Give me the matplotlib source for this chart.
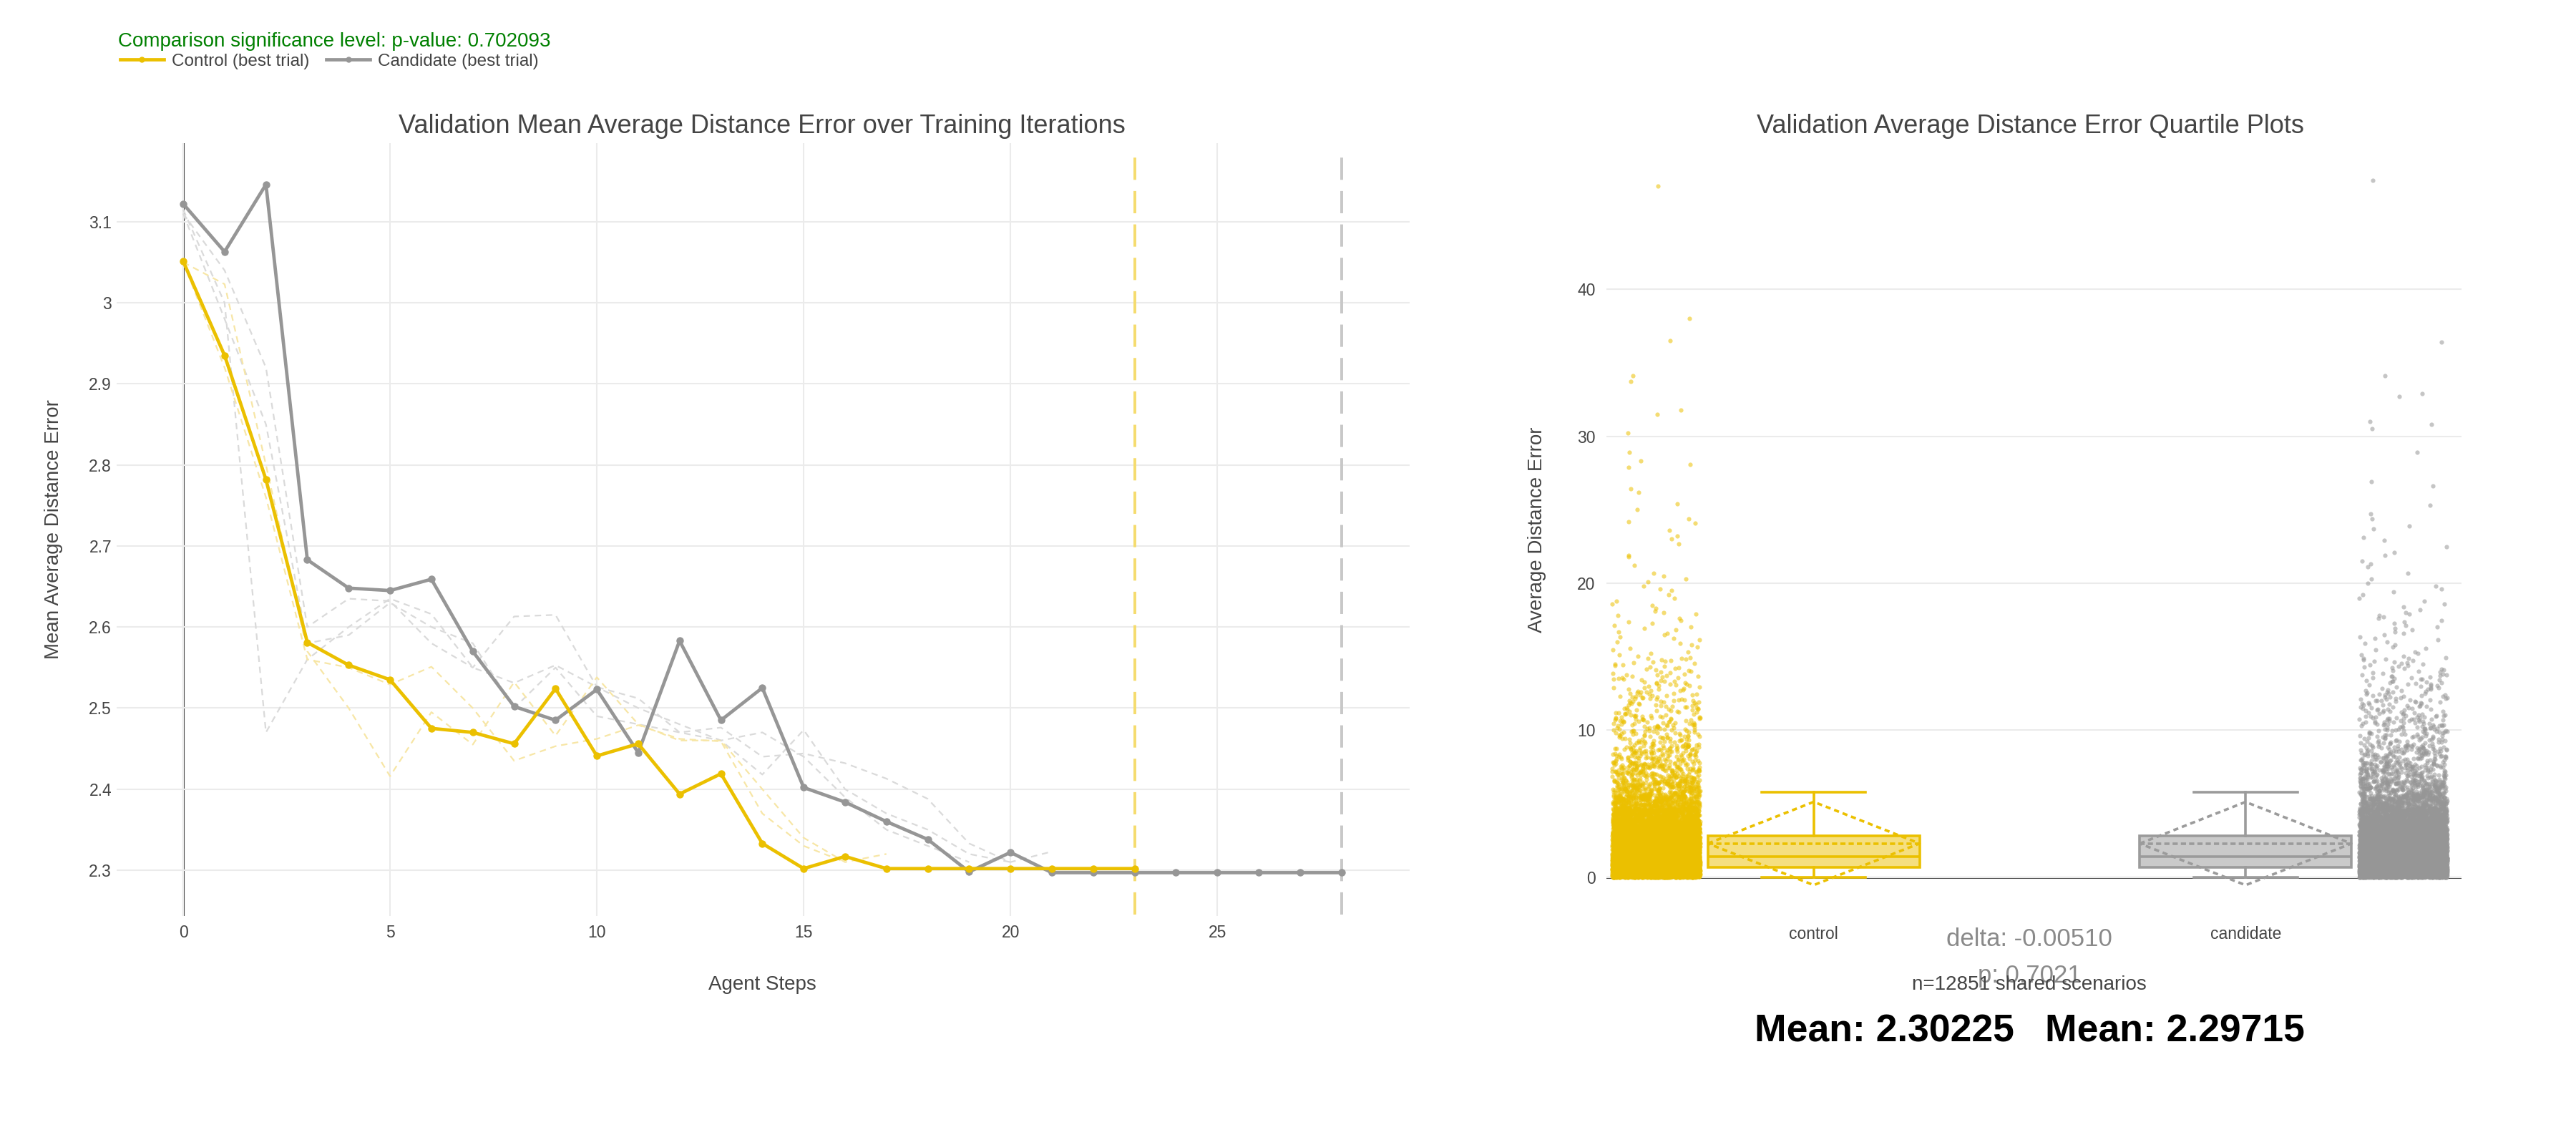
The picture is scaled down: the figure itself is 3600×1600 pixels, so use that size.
import numpy as np
import matplotlib
matplotlib.use('Agg')
import matplotlib.pyplot as plt
from matplotlib.lines import Line2D

plt.rcParams['font.family'] = ['Liberation Sans', 'DejaVu Sans']

# ---------------- data: training curves ----------------
control_steps = list(range(24))
control_best = [3.051, 2.935, 2.782, 2.581, 2.553, 2.535, 2.475, 2.470, 2.456, 2.524,
                2.441, 2.456, 2.394, 2.419, 2.333, 2.302, 2.317, 2.302, 2.302, 2.302,
                2.302, 2.302, 2.302, 2.302]
candidate_steps = list(range(29))
candidate_best = [3.122, 3.063, 3.146, 2.683, 2.648, 2.645, 2.659, 2.570, 2.502, 2.485,
                  2.523, 2.445, 2.583, 2.485, 2.525, 2.402, 2.384, 2.360, 2.338, 2.298,
                  2.322, 2.297, 2.297, 2.297, 2.297, 2.297, 2.297, 2.297, 2.297]

control_trial_1 = [3.05, 3.023, 2.80, 2.57, 2.50, 2.416, 2.495, 2.455, 2.532, 2.466,
                   2.538, 2.48, 2.46, 2.46, 2.40, 2.34, 2.31, 2.32]
control_trial_2 = [3.05, 2.92, 2.76, 2.56, 2.55, 2.529, 2.551, 2.50, 2.435, 2.453,
                   2.462, 2.479, 2.462, 2.459, 2.37, 2.33, 2.31]
candidate_trial_1 = [3.115, 3.00, 2.47, 2.56, 2.60, 2.635, 2.616, 2.55, 2.531, 2.553,
                     2.526, 2.512, 2.47, 2.476, 2.44, 2.444, 2.432, 2.413, 2.388, 2.333,
                     2.310, 2.323]
candidate_trial_2 = [3.11, 3.04, 2.92, 2.60, 2.635, 2.632, 2.58, 2.55, 2.613, 2.615,
                     2.526, 2.50, 2.48, 2.46, 2.418, 2.473, 2.40, 2.37, 2.35, 2.32, 2.31]
candidate_trial_3 = [3.11, 2.98, 2.85, 2.58, 2.59, 2.63, 2.60, 2.58, 2.50, 2.55,
                     2.49, 2.48, 2.47, 2.46, 2.47, 2.44, 2.39, 2.35, 2.33, 2.31]

control_stop_step = 23
candidate_stop_step = 28

x_ticks_left = [0, 5, 10, 15, 20, 25]
y_ticks_left = [2.3, 2.4, 2.5, 2.6, 2.7, 2.8, 2.9, 3.0, 3.1]
y_ticklabels_left = ['2.3', '2.4', '2.5', '2.6', '2.7', '2.8', '2.9', '3', '3.1']

# ---------------- data: per-scenario distribution ----------------
categories = ['control', 'candidate']
n_scenarios = 12851
# quantile table of the dense bulk (probability -> value)
bulk_probs = [0.0, 0.10, 0.25, 0.50, 0.75, 0.80, 0.85, 0.90, 0.93, 0.95, 0.965,
              0.975, 0.985, 0.99, 0.993, 0.995, 0.9968]
control_bulk_vals = [0.0, 0.35, 0.70, 1.43, 2.82, 3.3, 3.9, 4.7, 5.6, 6.6, 7.8,
                     9.0, 11.0, 12.5, 13.8, 15.0, 17.6]
candidate_bulk_vals = [0.0, 0.35, 0.70, 1.43, 2.81, 3.3, 3.9, 4.7, 5.6, 6.6, 7.8,
                       9.0, 11.0, 12.5, 13.8, 15.0, 17.6]
# individually visible high values
control_high = [47.0, 38.0, 36.5, 34.1, 33.7, 31.8, 31.5, 30.2, 28.9, 28.3, 28.1, 27.9,
                26.4, 26.2, 25.4, 25.0, 24.4, 24.2, 24.1, 23.6, 23.2, 23.0, 22.7, 21.9,
                21.8, 21.2, 20.7, 20.5, 20.3, 20.1, 19.8, 19.6, 19.5, 19.2, 19.0, 18.8,
                18.6, 18.5, 18.3, 18.1, 18.0, 17.9, 17.8]
candidate_high = [47.4, 36.4, 34.1, 32.9, 32.7, 31.0, 30.8, 30.5, 28.9, 26.9, 26.6, 25.3,
                  24.7, 24.4, 23.9, 23.7, 23.1, 22.9, 22.5, 22.1, 21.9, 21.5, 21.3, 21.1,
                  20.7, 20.3, 20.0, 19.8, 19.6, 19.4, 19.2, 19.0, 18.8, 18.6, 18.4, 18.2,
                  18.0, 17.9, 17.8, 17.7]
# box statistics
box_q1 = [0.70, 0.70]
box_median = [1.43, 1.43]
box_q3 = [2.82, 2.81]
box_whislo = [0.0, 0.0]
box_whishi = [5.81, 5.81]
box_mean = [2.30225, 2.29715]
box_sd = [2.83, 2.83]

y_ticks_right = [0, 10, 20, 30, 40]

# ---------------- styling ----------------
YEL = '#EBC000'
GRY = '#969696'
YEL_FILL = '#F5DF80'
GRY_FILL = '#CACACA'
TXT = '#444444'

W, H = 3600, 1600
fig = plt.figure(figsize=(36, 16), dpi=100)
fig.patch.set_facecolor('white')


def fx(px):
    return px / W


def fy(py):
    return 1 - py / H


# ================= left panel =================
axL = fig.add_axes([fx(163), fy(1280), fx(1970) - fx(163), fy(200) - fy(1280)])
axL.set_xlim(-1.61, 29.65)
axL.set_ylim(2.2435, 3.197)
for s in axL.spines.values():
    s.set_visible(False)
axL.set_xticks(x_ticks_left)
axL.set_yticks(y_ticks_left)
axL.set_yticklabels(y_ticklabels_left)
axL.grid(True, color='#EBEBEB', lw=1.5, zorder=0)
axL.tick_params(length=0, labelsize=16.5, labelcolor=TXT)
axL.tick_params(axis='x', pad=9)
axL.tick_params(axis='y', pad=5)
axL.axvline(0, color='#444444', lw=2.2, zorder=1)

for tr in [candidate_trial_1, candidate_trial_2, candidate_trial_3]:
    axL.plot(range(len(tr)), tr, color='#DADADA', lw=1.6, ls=(0, (4, 3)), zorder=2)
for tr in [control_trial_1, control_trial_2]:
    axL.plot(range(len(tr)), tr, color='#F7E6A6', lw=1.6, ls=(0, (4, 3)), zorder=2)

axL.axvline(control_stop_step, ymin=0.002, ymax=0.983, color='#F5DC6E', lw=2.8,
            ls=(0, (8, 4)), zorder=2)
axL.axvline(candidate_stop_step, ymin=0.002, ymax=0.983, color='#C8C8C8', lw=2.8,
            ls=(0, (8, 4)), zorder=2)

axL.plot(control_steps, control_best, color=YEL, lw=3.4, marker='o', ms=6.5, zorder=4)
axL.plot(candidate_steps, candidate_best, color=GRY, lw=3.4, marker='o', ms=6.5, zorder=3)

fig.text(fx(1065), fy(176), 'Validation Mean Average Distance Error over Training Iterations',
         ha='center', va='center', fontsize=26, color=TXT)
fig.text(fx(1065), fy(1376), 'Agent Steps', ha='center', va='center', fontsize=20, color=TXT)
fig.text(fx(75), fy(740), 'Mean Average Distance Error', ha='center', va='center',
         rotation=90, fontsize=20, color=TXT)

# legend + significance title
fig.text(fx(165), fy(58), 'Comparison significance level: p-value: 0.702093',
         ha='left', va='center', fontsize=20, color='#008000')
handles = [Line2D([0], [0], color=YEL, lw=3.4, marker='o', ms=5),
           Line2D([0], [0], color=GRY, lw=3.4, marker='o', ms=5)]
fig.legend(handles, ['Control (best trial)', 'Candidate (best trial)'],
           loc='center left', bbox_to_anchor=(fx(168), fy(86)), ncol=2, frameon=False,
           fontsize=17.5, labelcolor=TXT, handlelength=2.5, handletextpad=0.45,
           columnspacing=1.0, borderpad=0, borderaxespad=0)

# ================= right panel =================
axR = fig.add_axes([fx(2245), fy(1280), fx(3440) - fx(2245), fy(200) - fy(1280)])
axR.set_xlim(-0.48, 1.50)
axR.set_ylim(-2.63, 49.93)
for s in axR.spines.values():
    s.set_visible(False)
axR.set_yticks(y_ticks_right)
axR.set_xticks([0, 1])
axR.set_xticklabels(categories)
axR.grid(True, axis='y', color='#EBEBEB', lw=1.5, zorder=0)
axR.tick_params(length=0, labelsize=16.5, labelcolor=TXT)
axR.tick_params(axis='x', pad=10)
axR.tick_params(axis='y', pad=11)
axR.axhline(0, color='#444444', lw=2.2, zorder=1)

bulk_sets = [(control_bulk_vals, control_high), (candidate_bulk_vals, candidate_high)]
jit_offset = [-0.365, 0.365]
jit_width = 0.203
pt_colors = [YEL, GRY]
for i, (bv, hv) in enumerate(bulk_sets):
    n_bulk = n_scenarios - len(hv)
    p = np.linspace(0, bulk_probs[-1], n_bulk)
    vals = np.concatenate([np.interp(p, bulk_probs, bv), np.array(hv)])
    idx = np.arange(len(vals), dtype=float) + 1.0 + 0.37 * i
    # deterministic hash-based horizontal jitter (position only)
    frac = np.abs(np.sin(idx * 12.9898 + 78.233) * 43758.5453) % 1.0
    xs = i + jit_offset[i] + (frac - 0.5) * jit_width
    axR.scatter(xs, vals, s=20, color=pt_colors[i], alpha=0.55, lw=0, zorder=3)

stats = []
for i, c in enumerate(categories):
    stats.append(dict(label=c, q1=box_q1[i], med=box_median[i], q3=box_q3[i],
                      whislo=box_whislo[i], whishi=box_whishi[i]))
fills = [YEL_FILL, GRY_FILL]
edges = [YEL, '#9B9B9B']
bp = axR.bxp(stats, positions=[0, 1], widths=0.49, showfliers=False, patch_artist=True,
             capwidths=0.24, manage_ticks=False)
for i in range(2):
    bp['boxes'][i].set(facecolor=fills[i], edgecolor=edges[i], lw=2.6, zorder=4)
    bp['medians'][i].set(color=edges[i], lw=2.6, zorder=5)
    for w in bp['whiskers'][2 * i:2 * i + 2]:
        w.set(color=edges[i], lw=2.6, zorder=4)
    for cp in bp['caps'][2 * i:2 * i + 2]:
        cp.set(color=edges[i], lw=2.6, zorder=4)
    m, sd, hw = box_mean[i], box_sd[i], 0.245
    axR.plot([i - hw, i + hw], [m, m], color=edges[i], lw=2.6, ls=(0, (2, 1.2)), zorder=6)
    axR.plot([i - hw, i, i + hw, i, i - hw], [m, m + sd, m, m - sd, m],
             color=edges[i], lw=2.6, ls=(0, (2, 1.5)), zorder=6)

fig.text(fx(2837), fy(176), 'Validation Average Distance Error Quartile Plots',
         ha='center', va='center', fontsize=26, color=TXT)
fig.text(fx(2148), fy(740), 'Average Distance Error', ha='center', va='center',
         rotation=90, fontsize=20, color=TXT)

fig.text(fx(2836), fy(1313), 'delta: -0.00510', ha='center', va='center', fontsize=25,
         color='#8A8A8A')
fig.text(fx(2836), fy(1363), 'p: 0.7021', ha='center', va='center', fontsize=25,
         color='#8A8A8A')
fig.text(fx(2836), fy(1376), f'n={n_scenarios} shared scenarios', ha='center', va='center',
         fontsize=20, color=TXT)
fig.text(fx(2633), fy(1442), f'Mean: {box_mean[0]:.5f}', ha='center', va='center',
         fontsize=38.5, fontweight='bold', color='black')
fig.text(fx(3039), fy(1442), f'Mean: {box_mean[1]:.5f}', ha='center', va='center',
         fontsize=38.5, fontweight='bold', color='black')

fig.savefig('out.png', dpi=100, facecolor='white')
